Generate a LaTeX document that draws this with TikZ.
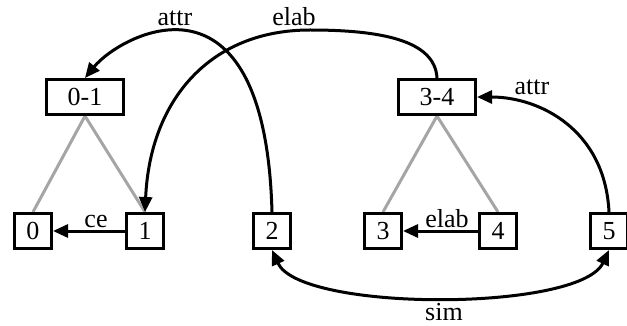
\documentclass[tikz,border=0pt]{standalone}
\usepackage{fontspec}
\setmainfont{Liberation Serif}
\usetikzlibrary{arrows.meta}
\definecolor{treegray}{RGB}{165,165,165}
\begin{document}
\begin{tikzpicture}[x=1pt,y=-1pt,
  unit/.style={draw, fill=white, line width=3pt, minimum width=37pt, minimum height=35pt,
    inner sep=0pt, font=\fontsize{26}{30}\selectfont},
  span/.style={unit, minimum width=77pt},
  tree/.style={draw=treegray, line width=3pt},
  rel/.style={draw, line width=3pt, -{Triangle[length=15pt,width=13pt]}},
  birel/.style={rel, {Triangle[length=15pt,width=13pt]}-{Triangle[length=15pt,width=13pt]}},
  lbl/.style={anchor=base, inner sep=0pt, font=\fontsize{26}{30}\selectfont}
]
\useasboundingbox (0,0) rectangle (627,326);

% tree structure (grey)
\path[tree] (85,116) -- (33,212);
\path[tree] (85,116) -- (145,212);
\path[tree] (437,116) -- (383,212);
\path[tree] (437,116) -- (498,212);

% discourse units
\node[span] (n01) at (85,97) {0-1};
\node[span] (n34) at (437,97) {3-4};
\node[unit] (n0) at (33,231) {0};
\node[unit] (n1) at (145,231) {1};
\node[unit] (n2) at (272,231) {2};
\node[unit] (n3) at (383,231) {3};
\node[unit] (n4) at (498,231) {4};
\node[unit] (n5) at (609,231) {5};

% relations
\path[rel] (n1.west) -- (n0.east);
\path[rel] (n4.west) -- (n3.east);
\path[rel] (n2.north) .. controls (265,-45) and (120,35) .. (n01.north);
\path[rel] (n34.north) .. controls (435,40) and (380,30) .. (310,30)
  .. controls (210,30) and (150,100) .. (n1.north);
\path[rel] (n5.north) .. controls (605,130) and (540,97) .. (n34.east);
\path[birel] (n2.south) .. controls (300,312) and (580,312) .. (n5.south);

% relation labels
\node[lbl] (lattr1) at (175,26) {attr};
\node[lbl] (lelab1) at (294,26) {elab};
\node[lbl] (lattr2) at (532,95) {attr};
\node[lbl] (lce) at (96,227) {ce};
\node[lbl] (lelab2) at (447,227) {elab};
\node[lbl] (lsim) at (444,320) {sim};
\end{tikzpicture}
\end{document}
